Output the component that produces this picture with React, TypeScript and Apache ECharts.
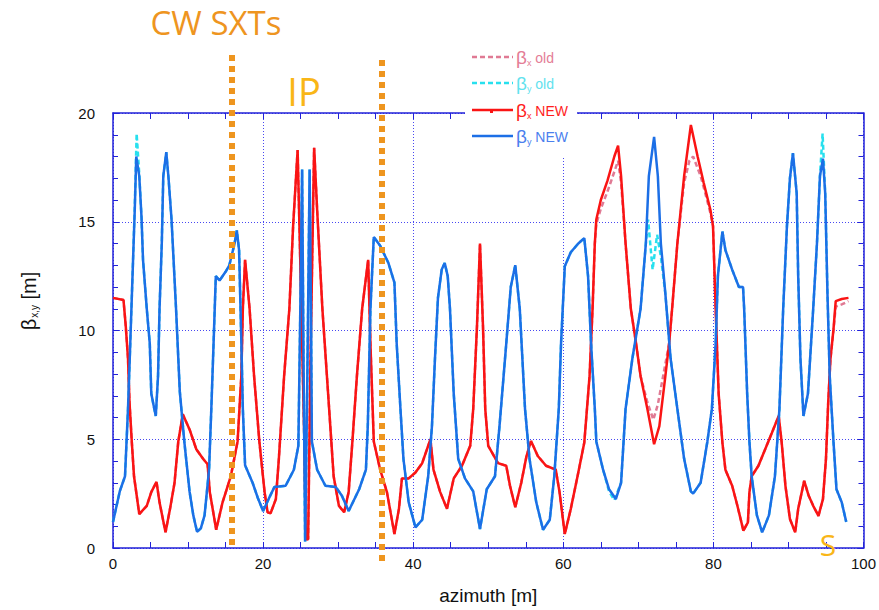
import React, { useEffect, useRef } from "react";
import * as echarts from "echarts";

// ---- data (azimuth [m], beta [m]) ----
const xRange = [0, 100];
const yRange = [0, 20];

const betaXNew: [number, number][] = [
  [0, 11.5], [1.4, 11.4], [1.7, 10.2], [2.0, 8.7], [2.2, 6.7], [2.5, 4.9], [2.8, 3.3], [3.5, 1.56],
  [4.5, 1.94], [5.1, 2.57], [5.8, 3.04], [6.2, 2.1], [7.0, 0.72], [7.6, 1.8], [8.2, 3.0], [8.7, 4.9],
  [9.3, 6.15], [10.2, 5.45], [11.1, 4.54], [12.0, 4.1], [12.6, 3.85], [12.9, 2.57], [13.75, 0.84],
  [14.6, 2.1], [15.7, 3.3], [16.6, 4.9], [17.1, 7.9], [17.3, 11], [17.6, 13.25], [18.2, 11], [18.8, 7.9],
  [19.5, 4.9], [20.2, 2.57], [20.6, 1.64], [21.0, 1.6], [21.7, 2.25], [22.1, 4.1], [22.8, 7.9], [23.5, 11],
  [24.0, 14.8], [24.6, 18.3], [25.0, 12.5], [25.5, 4.9], [25.7, 0.4], [26.0, 0.4], [26.35, 9.4], [26.8, 18.4],
  [27.2, 15.55], [27.9, 11], [28.8, 6.4], [29.4, 3.3], [30.1, 1.94], [30.8, 1.64], [31.4, 2.57], [31.9, 4.9],
  [32.5, 7.9], [33.2, 11], [34.0, 13.25], [34.3, 9.4], [34.75, 4.9], [35.6, 3.6], [36.5, 2.57], [37.5, 0.64],
  [38.1, 1.8], [38.5, 3.2], [39.4, 3.2], [40.3, 3.47], [41.2, 3.9], [42.3, 5.0], [42.7, 3.6], [43.6, 2.57],
  [44.5, 1.8], [45.4, 3.2], [46.5, 3.78], [47.6, 4.7], [48.0, 6.4], [48.5, 10.2], [48.9, 14.0], [49.3, 10.2],
  [49.6, 6.4], [50.0, 4.7], [51.3, 3.9], [52.4, 3.78], [52.9, 2.86], [53.6, 1.87], [54.4, 3.0], [55.1, 4.23],
  [55.7, 4.92], [56.6, 4.23], [57.7, 3.78], [59.0, 3.6], [59.5, 2.57], [60.2, 0.64], [61.0, 1.8], [61.9, 3.3],
  [62.8, 4.85], [63.5, 7.9], [63.9, 11], [64.2, 14.0], [64.4, 15.1], [65.0, 16.0], [65.9, 16.9], [66.8, 18.0],
  [67.3, 18.5], [67.7, 17.1], [68.3, 14.0], [69.0, 11.0], [69.7, 9.4], [70.3, 7.9], [71.2, 6.4], [72.1, 4.77],
  [72.8, 5.6], [73.6, 7.9], [74.1, 9.4], [74.5, 11.0], [75.2, 14.0], [76.1, 17.1], [77.0, 19.45], [77.9, 18.0],
  [78.7, 16.8], [79.6, 15.55], [79.95, 14.8], [80.3, 11.0], [80.7, 7.1], [81.2, 4.85], [81.6, 3.6], [82.5, 2.86],
  [83.2, 1.94], [84.0, 0.8], [84.6, 1.18], [84.8, 2.55], [85.1, 3.3], [86.0, 3.78], [86.9, 4.54], [87.8, 5.3],
  [88.7, 6.07], [89.1, 4.85], [89.6, 2.86], [90.2, 1.33], [90.9, 0.72], [91.3, 1.8], [92.1, 3.09], [92.7, 2.4],
  [93.3, 1.94], [94.0, 1.48], [94.6, 2.25], [95.0, 4.1], [95.3, 6.7], [95.6, 8.7], [96.0, 10.05], [96.3, 11.35],
  [97.1, 11.45], [98.0, 11.5],
];

const betaXOld: [number, number][] = [
  [0, 11.5], [1.4, 11.4], [1.7, 10.2], [2.0, 8.7], [2.2, 6.7], [2.5, 4.9], [2.8, 3.3], [3.5, 1.56],
  [4.5, 1.94], [5.1, 2.57], [5.8, 3.04], [6.2, 2.1], [7.0, 0.72], [7.6, 1.8], [8.2, 3.0], [8.7, 4.9],
  [9.3, 6.15], [10.2, 5.45], [11.1, 4.54], [12.0, 4.1], [12.6, 3.85], [12.9, 2.57], [13.75, 0.84],
  [14.6, 2.1], [15.7, 3.3], [16.6, 4.9], [17.1, 7.9], [17.3, 11], [17.6, 13.25], [18.2, 11], [18.8, 7.9],
  [19.5, 4.9], [20.2, 2.57], [20.6, 1.64], [21.0, 1.6], [21.7, 2.25], [22.1, 4.1], [22.8, 7.9], [23.5, 11],
  [24.0, 14.8], [24.6, 18.3], [25.0, 12.5], [25.5, 4.9], [25.7, 0.4], [26.0, 0.4], [26.35, 9.4], [26.8, 18.4],
  [27.2, 15.55], [27.9, 11], [28.8, 6.4], [29.4, 3.3], [30.1, 1.94], [30.8, 1.64], [31.4, 2.57], [31.9, 4.9],
  [32.5, 7.9], [33.2, 11], [34.0, 13.25], [34.3, 9.4], [34.75, 4.9], [35.6, 3.6], [36.5, 2.57], [37.5, 0.64],
  [38.1, 1.8], [38.5, 3.2], [39.4, 3.2], [40.3, 3.47], [41.2, 3.9], [42.3, 5.0], [42.7, 3.6], [43.6, 2.57],
  [44.5, 1.8], [45.4, 3.2], [46.5, 3.78], [47.6, 4.7], [48.0, 6.4], [48.5, 10.2], [48.9, 14.0], [49.3, 10.2],
  [49.6, 6.4], [50.0, 4.7], [51.3, 3.9], [52.4, 3.78], [52.9, 2.86], [53.6, 1.87], [54.4, 3.0], [55.1, 4.23],
  [55.7, 4.92], [56.6, 4.23], [57.7, 3.78], [59.0, 3.6], [59.5, 2.57], [60.2, 0.64], [61.0, 1.8], [61.9, 3.3],
  [62.8, 4.85], [63.5, 7.9], [63.9, 11], [64.2, 14.0], [64.4, 14.9], [65.0, 15.6], [65.9, 16.4], [66.8, 17.3],
  [67.3, 17.8], [67.7, 16.8], [68.3, 14.0], [69.0, 11.0], [69.7, 9.4], [70.3, 7.9], [71.2, 6.7], [72.0, 5.9],
  [72.6, 6.6], [73.3, 7.9], [74.1, 9.4], [74.5, 11.0], [75.2, 14.0], [76.1, 16.8], [76.8, 17.8], [77.3, 18.0],
  [78.3, 17.1], [79.0, 16.2], [79.6, 15.4], [79.95, 14.8], [80.3, 11.0], [80.7, 7.1], [81.2, 4.85], [81.6, 3.6], [82.5, 2.86],
  [83.2, 1.94], [84.0, 0.8], [84.6, 1.18], [84.8, 2.55], [85.1, 3.3], [86.0, 3.78], [86.9, 4.54], [87.8, 5.3],
  [88.7, 6.07], [89.1, 4.85], [89.6, 2.86], [90.2, 1.33], [90.9, 0.72], [91.3, 1.8], [92.1, 3.09], [92.7, 2.4],
  [93.3, 1.94], [94.0, 1.48], [94.6, 2.25], [95.0, 4.1], [95.3, 6.7], [95.6, 8.7], [96.0, 10.0], [96.3, 11.1],
  [97.1, 11.2], [98.0, 11.35],
];

const betaYNew: [number, number][] = [
  [0, 1.2], [0.9, 2.6], [1.6, 3.3], [2.0, 6.4], [2.3, 9.4], [2.6, 12.5], [2.9, 15.55], [3.1, 18.0],
  [3.5, 17.1], [3.8, 15.2], [4.0, 13.25], [4.5, 11], [4.9, 9.4], [5.1, 7.1], [5.5, 6.4], [5.7, 6.07],
  [6.0, 7.9], [6.2, 11], [6.5, 14], [6.7, 17.1], [7.1, 18.2], [7.4, 17.0], [7.8, 15.1], [8.4, 11],
  [8.9, 7.2], [9.5, 4.9], [10.2, 2.6], [10.7, 1.5], [11.2, 0.75], [11.7, 0.9], [12.2, 1.5], [12.8, 3.6],
  [13.1, 6.4], [13.4, 9.4], [13.7, 12.5], [14.2, 12.3], [15.0, 12.7], [15.5, 13.0], [16.2, 14.0], [16.5, 14.6],
  [16.8, 13.7], [17.1, 9.5], [17.3, 6.4], [17.6, 3.8], [18.6, 3.0], [19.3, 2.3], [20.0, 1.7], [20.8, 2.3],
  [21.5, 2.8], [23.0, 2.86], [24.1, 3.6], [24.7, 4.7], [25.0, 12], [25.2, 17.4], [25.4, 8], [25.6, 0.3],
  [25.9, 8], [26.2, 17.4], [26.4, 10], [26.5, 4.9], [27.2, 3.6], [28.3, 2.86], [29.7, 2.8], [30.5, 2.4],
  [31.4, 1.7], [32.8, 2.7], [33.7, 3.6], [33.95, 5.6], [34.3, 11.0], [34.75, 14.3], [35.6, 13.9], [36.7, 13.1],
  [37.5, 12.2], [37.8, 9.4], [38.3, 6.4], [38.7, 4.1], [39.4, 2.1], [40.3, 0.95], [41.2, 1.3], [42.0, 3.3],
  [42.5, 5.6], [42.9, 8.7], [43.3, 11.5], [43.8, 12.8], [44.2, 13.1], [44.6, 12.5], [44.9, 11], [45.4, 7.1],
  [46.0, 4.1], [46.9, 3.2], [48.0, 2.6], [48.9, 0.87], [49.8, 2.7], [50.9, 3.3], [51.5, 5.6], [52.4, 9.4],
  [53.0, 12.0], [53.6, 13.0], [54.2, 11], [54.9, 6.4], [55.5, 4.1], [56.4, 2.1], [57.3, 0.84], [58.2, 1.3],
  [58.8, 3.3], [59.4, 6.4], [59.7, 9.4], [60.2, 12.95], [61.0, 13.6], [62.0, 14.0], [62.8, 14.25], [63.3, 12.5],
  [63.7, 9.4], [64.2, 6.4], [64.4, 4.9], [65.3, 3.6], [66.1, 2.7], [67.0, 2.25], [67.7, 3.0], [68.3, 6.4],
  [69.2, 8.7], [70.3, 11], [71.0, 14], [71.4, 17.1], [72.1, 18.9], [72.6, 17.1], [73.0, 14], [73.6, 11.7],
  [74.3, 8.7], [75.2, 6.4], [76.1, 4.1], [77.0, 2.6], [77.3, 2.5], [78.3, 3.0], [79.2, 4.9], [79.8, 6.4],
  [80.3, 9.4], [80.6, 12.5], [81.2, 14.55], [81.6, 13.7], [82.5, 12.8], [83.4, 12.0], [83.95, 12.0], [84.1, 11],
  [84.5, 7.1], [84.8, 4.9], [85.1, 3.3], [85.8, 1.5], [86.5, 0.72], [87.4, 1.5], [88.2, 3.3], [88.8, 6.4],
  [89.3, 11], [89.8, 14.8], [90.2, 17.0], [90.6, 18.15], [91.1, 16.3], [91.3, 12.5], [91.6, 8.7], [92.0, 6.07],
  [92.6, 7.1], [93.3, 11], [93.8, 14], [94.2, 17.1], [94.6, 17.9], [94.9, 16.3], [95.2, 11.7], [95.5, 7.9],
  [96.0, 4.9], [96.4, 2.7], [97.1, 2.1], [97.7, 1.2],
];

const betaYOld: [number, number][] = [
  [0, 1.2], [0.9, 2.6], [1.6, 3.3], [2.0, 6.4], [2.3, 9.4], [2.6, 12.5], [2.9, 15.7], [3.15, 19.05],
  [3.5, 17.2], [3.8, 15.2], [4.0, 13.25], [4.5, 11], [4.9, 9.4], [5.1, 7.1], [5.5, 6.4], [5.7, 6.07],
  [6.0, 7.9], [6.2, 11], [6.5, 14], [6.7, 17.1], [7.1, 18.2], [7.4, 17.0], [7.8, 15.1], [8.4, 11],
  [8.9, 7.2], [9.5, 4.9], [10.2, 2.6], [10.7, 1.5], [11.2, 0.75], [11.7, 0.9], [12.2, 1.5], [12.8, 3.6],
  [13.1, 6.4], [13.4, 9.4], [13.7, 12.5], [14.2, 12.3], [15.0, 12.7], [15.5, 13.0], [16.2, 14.0], [16.5, 14.6],
  [16.8, 13.7], [17.1, 9.5], [17.3, 6.4], [17.6, 3.8], [18.6, 3.0], [19.3, 2.3], [20.0, 1.7], [20.8, 2.3],
  [21.5, 2.8], [23.0, 2.86], [24.1, 3.6], [24.7, 4.7], [25.0, 12], [25.2, 17.4], [25.4, 8], [25.6, 0.3],
  [25.9, 8], [26.2, 17.4], [26.4, 10], [26.5, 4.9], [27.2, 3.6], [28.3, 2.86], [29.7, 2.8], [30.5, 2.4],
  [31.4, 1.7], [32.8, 2.7], [33.7, 3.6], [33.95, 5.6], [34.3, 11.0], [34.75, 14.3], [35.6, 13.9], [36.7, 13.1],
  [37.5, 12.2], [37.8, 9.4], [38.3, 6.4], [38.7, 4.1], [39.4, 2.1], [40.3, 0.95], [41.2, 1.3], [42.0, 3.3],
  [42.5, 5.6], [42.9, 8.7], [43.3, 11.5], [43.8, 12.8], [44.2, 13.1], [44.6, 12.5], [44.9, 11], [45.4, 7.1],
  [46.0, 4.1], [46.9, 3.2], [48.0, 2.6], [48.9, 0.87], [49.8, 2.7], [50.9, 3.3], [51.5, 5.6], [52.4, 9.4],
  [53.0, 12.0], [53.6, 13.0], [54.2, 11], [54.9, 6.4], [55.5, 4.1], [56.4, 2.1], [57.3, 0.84], [58.2, 1.3],
  [58.8, 3.3], [59.4, 6.4], [59.7, 9.4], [60.2, 12.95], [61.0, 13.6], [62.0, 14.0], [62.8, 14.25], [63.3, 12.5],
  [63.7, 9.4], [64.2, 6.4], [64.4, 4.9], [65.3, 3.6], [66.1, 2.6], [66.8, 2.2], [67.7, 3.0], [68.3, 6.4],
  [69.2, 8.7], [70.3, 11], [71.0, 14], [71.3, 15.1], [71.9, 12.8], [72.5, 14.4], [73.0, 13.4], [73.6, 11.7],
  [74.3, 8.7], [75.2, 6.4], [76.1, 4.1], [77.0, 2.6], [77.3, 2.5], [78.3, 3.0], [79.2, 4.9], [79.8, 6.4],
  [80.3, 9.4], [80.6, 12.5], [81.2, 14.55], [81.6, 13.7], [82.5, 12.8], [83.4, 12.0], [83.95, 12.0], [84.1, 11],
  [84.5, 7.1], [84.8, 4.9], [85.1, 3.3], [85.8, 1.5], [86.5, 0.72], [87.4, 1.5], [88.2, 3.3], [88.8, 6.4],
  [89.3, 11], [89.8, 14.8], [90.2, 17.0], [90.6, 18.15], [91.1, 16.3], [91.3, 12.5], [91.6, 8.7], [92.0, 6.07],
  [92.6, 7.1], [93.3, 11], [93.8, 14], [94.2, 17.1], [94.55, 19.05], [94.9, 16.3], [95.2, 11.7], [95.5, 7.9],
  [96.0, 4.9], [96.4, 2.7], [97.1, 2.1], [97.7, 1.2],
];

// positions of the crab-waist sextupoles [m]
const sxtPositions = [15.9, 35.9];

const legendLabels = ["old", "old", "NEW", "NEW"];
const legendSubs = ["x", "y", "x", "y"];

// ---- styles ----
const AXIS = "#2222d8";
const GRID = "#4848f2";
const SANS = "'Liberation Sans', Arial, Helvetica, sans-serif";
const CAL = "'Open Sans', 'Noto Sans', sans-serif";
const C_XOLD = "#e07a94";
const C_YOLD = "#27e0ee";
const C_XNEW = "#fa1414";
const C_YNEW = "#1c6fe6";
const ORANGE = "#ee951f";
const YELLOW = "#f9b617";

export default function App() {
  const ref = useRef<HTMLDivElement>(null);

  useEffect(() => {
    document.body.style.margin = "0";
    if (!ref.current) return;
    const chart = echarts.init(ref.current, undefined, { renderer: "svg" });

    const axisCommon = {
      type: "value" as const,
      axisLine: { show: true, onZero: false, lineStyle: { color: AXIS, width: 1.5 } },
      axisTick: { show: true, inside: true, length: 6, lineStyle: { color: AXIS, width: 1 } },
    };

    const option: any = {
      animation: false,
      backgroundColor: "#ffffff",
      grid: { left: 113, top: 113, right: 12, bottom: 61, show: false },
      xAxis: [
        {
          ...axisCommon,
          position: "bottom",
          min: xRange[0],
          max: xRange[1],
          interval: 20,
          minorTick: { show: true, splitNumber: 4, length: 6, lineStyle: { color: AXIS, width: 1 } },
          axisLabel: { color: "#111", fontSize: 15, fontFamily: SANS, margin: 8 },
          splitLine: { show: true, lineStyle: { color: GRID, type: [1, 2], width: 1 } },
          name: "azimuth [m]",
          nameLocation: "middle",
          nameGap: 38,
          nameTextStyle: { color: "#111", fontSize: 19, fontFamily: SANS },
        },
        {
          ...axisCommon,
          position: "top",
          min: xRange[0],
          max: xRange[1],
          interval: 20,
          minorTick: { show: true, splitNumber: 4, length: 6, lineStyle: { color: AXIS, width: 1 } },
          axisLabel: { show: false },
          splitLine: { show: false },
        },
      ],
      yAxis: [
        {
          ...axisCommon,
          position: "left",
          min: yRange[0],
          max: yRange[1],
          interval: 5,
          minorTick: { show: true, splitNumber: 5, length: 5, lineStyle: { color: AXIS, width: 1 } },
          axisLabel: { color: "#111", fontSize: 15, fontFamily: SANS, margin: 18 },
          splitLine: { show: true, lineStyle: { color: GRID, type: [1, 2], width: 1 } },
        },
        {
          ...axisCommon,
          position: "right",
          min: yRange[0],
          max: yRange[1],
          interval: 5,
          minorTick: { show: true, splitNumber: 5, length: 5, lineStyle: { color: AXIS, width: 1 } },
          axisLabel: { show: false },
          splitLine: { show: false },
        },
      ],
      series: [
        {
          name: "βx old",
          type: "line",
          data: betaXOld,
          symbol: "none",
          lineStyle: { color: C_XOLD, width: 2.5, type: [5, 3] },
          z: 2,
        },
        {
          name: "βy old",
          type: "line",
          data: betaYOld,
          symbol: "none",
          lineStyle: { color: C_YOLD, width: 2.5, type: [5, 3] },
          z: 2,
        },
        {
          name: "βx NEW",
          type: "line",
          data: betaXNew,
          symbol: "none",
          lineStyle: { color: C_XNEW, width: 2.5 },
          z: 3,
        },
        {
          name: "βy NEW",
          type: "line",
          data: betaYNew,
          symbol: "none",
          lineStyle: { color: C_YNEW, width: 2.5 },
          z: 4,
        },
      ],
    };
    chart.setOption(option);

    const yBottom = chart.convertToPixel({ yAxisIndex: 0 }, 0) as number;
    const sxtTops = [55, 60];
    const sxtBottoms = [yBottom, yBottom + 16];

    const graphics: any[] = [];

    sxtPositions.forEach((v, i) => {
      const px = Math.round(chart.convertToPixel({ xAxisIndex: 0 }, v) as number);
      graphics.push({
        type: "line",
        z: 50,
        shape: { x1: px, y1: sxtTops[i], x2: px, y2: sxtBottoms[i] },
        style: { stroke: ORANGE, lineWidth: 6, lineDash: [6, 5], lineCap: "butt" },
      });
    });

    const txt = (x: number, y: number, text: string, fontSize: number, color: string, family = CAL) => ({
      type: "text",
      x,
      y,
      z: 60,
      style: {
        text,
        fill: color,
        fontSize,
        fontFamily: family,
        align: "center",
        verticalAlign: "middle",
        textAlign: "center",
        textVerticalAlign: "middle",
      },
    });
    graphics.push(txt(216, 22, "CW SXTs", 33, ORANGE));
    graphics.push(txt(304, 91, "IP", 38, YELLOW));
    graphics.push(txt(828, 544, "S", 30, YELLOW));

    // y axis title
    graphics.push({
      type: "text",
      x: 29,
      y: 301,
      rotation: Math.PI / 2,
      z: 60,
      style: {
        text: "{b|β}{s|x,y}{b| [m]}",
        align: "center",
        verticalAlign: "middle",
        textAlign: "center",
        textVerticalAlign: "middle",
        rich: {
          b: { fontSize: 20, fontFamily: SANS, fill: "#111", color: "#111" },
          s: { fontSize: 10, fontFamily: SANS, fill: "#111", color: "#111", padding: [10, 0, 0, 1] },
        },
      },
    });

    // legend
    const legColors = [C_XOLD, C_YOLD, C_XNEW, C_YNEW];
    const legText = ["#e47d96", "#62e2ee", "#ff1e1e", "#4b80ee"];
    const legDash = [true, true, false, false];
    const rowY = [57, 83, 110, 136];
    graphics.push({
      type: "rect",
      z: 70,
      shape: { x: 465, y: 40, width: 112, height: 117 },
      style: { fill: "#ffffff" },
    });
    rowY.forEach((y, i) => {
      graphics.push({
        type: "line",
        z: 71,
        shape: { x1: 472, y1: y, x2: 513, y2: y },
        style: { stroke: legColors[i], lineWidth: 2.5, lineDash: legDash[i] ? [5, 3] : null },
      });
      if (i === 2) {
        graphics.push({
          type: "rect",
          z: 72,
          shape: { x: 490, y: y, width: 3, height: 3 },
          style: { fill: legColors[i] },
        });
      }
      graphics.push({
        type: "text",
        x: 516,
        y: y,
        z: 72,
        style: {
          text: `{b|β}{s|${legendSubs[i]}}{t| ${legendLabels[i]}}`,
          align: "left",
          verticalAlign: "middle",
          textAlign: "left",
          textVerticalAlign: "middle",
          rich: {
            b: { fontSize: 19, fontFamily: SANS, fill: legText[i], color: legText[i] },
            s: { fontSize: 9, fontFamily: SANS, fill: legText[i], color: legText[i], padding: [11, 0, 0, 0] },
            t: { fontSize: 14, fontFamily: SANS, fill: legText[i], color: legText[i], padding: [2, 0, 0, 0] },
          },
        },
      });
    });

    chart.setOption({ graphic: graphics });

    return () => chart.dispose();
  }, []);

  return <div ref={ref} style={{ width: 879, height: 610 }} />;
}
